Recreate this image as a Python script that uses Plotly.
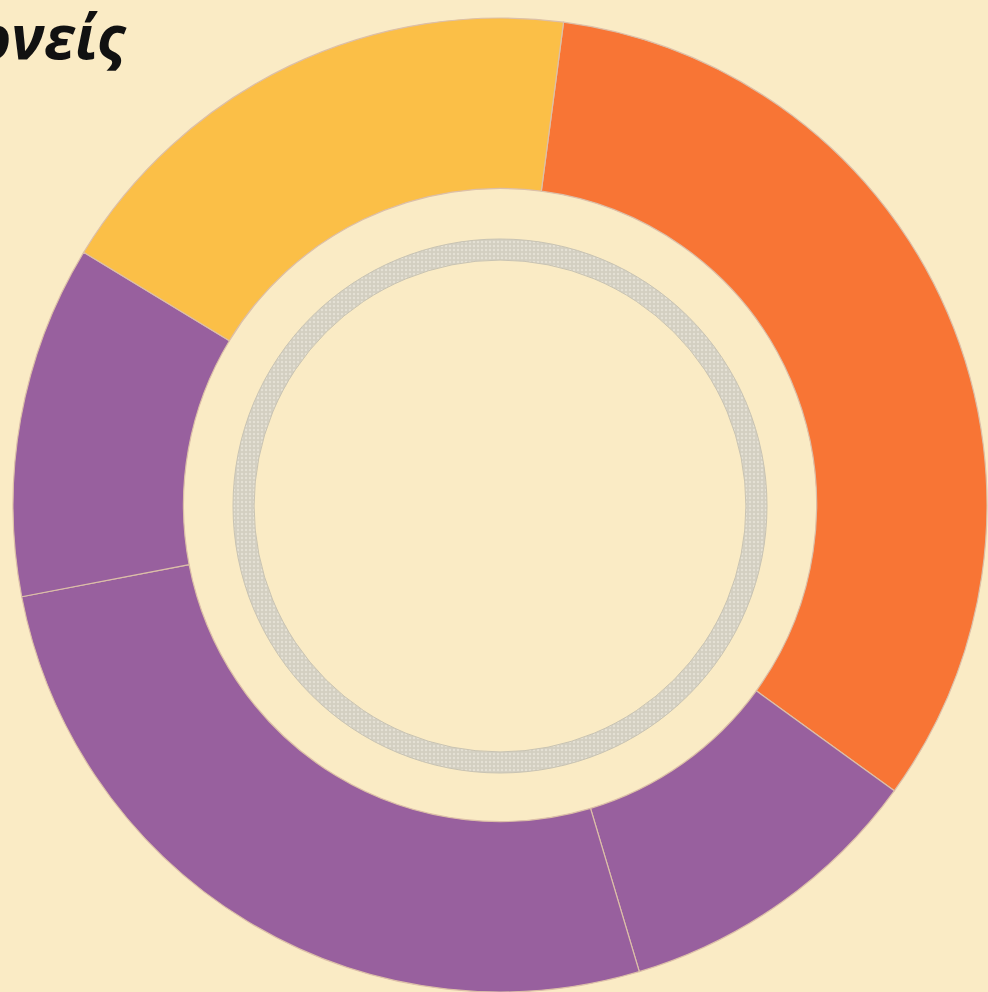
import plotly.graph_objects as go

# ---- data ----
title_text = "Γονείς"
slice_labels = ["Κατηγορία Α", "Κατηγορία Β", "Κατηγορία Γ", "Κατηγορία Δ", "Κατηγορία Ε"]
slice_values = [32.9, 10.4, 26.6, 11.7, 18.4]
slice_colors = ["#F87535", "#98609E", "#98609E", "#98609E", "#FBBF47"]
ring_labels = ["Σύνολο"]
ring_values = [100]

BG = "#FAEBC5"
W, H = 988, 992

fig = go.Figure()

# main donut
fig.add_trace(go.Pie(
    labels=slice_labels,
    values=slice_values,
    sort=False,
    direction="clockwise",
    rotation=7.5,
    hole=0.65,
    marker=dict(colors=slice_colors, line=dict(color="#dcbfa8", width=1.2)),
    textinfo="none",
    hoverinfo="label+percent",
    showlegend=False,
    domain=dict(x=[13 / W, 987 / W], y=[0, 974 / H]),
))

# thin grey inner ring
fig.add_trace(go.Pie(
    labels=ring_labels,
    values=ring_values,
    sort=False,
    hole=0.921,
    marker=dict(colors=["#D5D1C3"], line=dict(color="#c8c3b3", width=1),
                pattern=dict(shape=".", fgcolor="#e4e0d4", bgcolor="#D3CFC1",
                             size=4, solidity=0.3)),
    textinfo="none",
    hoverinfo="label",
    showlegend=False,
    domain=dict(x=[(500 - 267) / W, (500 + 267) / W],
                y=[(486 - 267) / H, (486 + 267) / H]),
))

fig.add_annotation(
    text="<b><i>" + title_text + "</i></b>",
    xref="paper", yref="paper",
    x=129 / W, y=1 - 36 / H,
    xanchor="right", yanchor="middle",
    showarrow=False,
    font=dict(family="Open Sans", size=60, color="#111111"),
)

fig.update_layout(
    width=W, height=H,
    margin=dict(l=0, r=0, t=0, b=0),
    paper_bgcolor=BG,
    plot_bgcolor=BG,
)

fig.write_html("out.html",
               config={"displayModeBar": False},
               post_script="document.body.style.margin='0';document.body.style.overflow='hidden';")
